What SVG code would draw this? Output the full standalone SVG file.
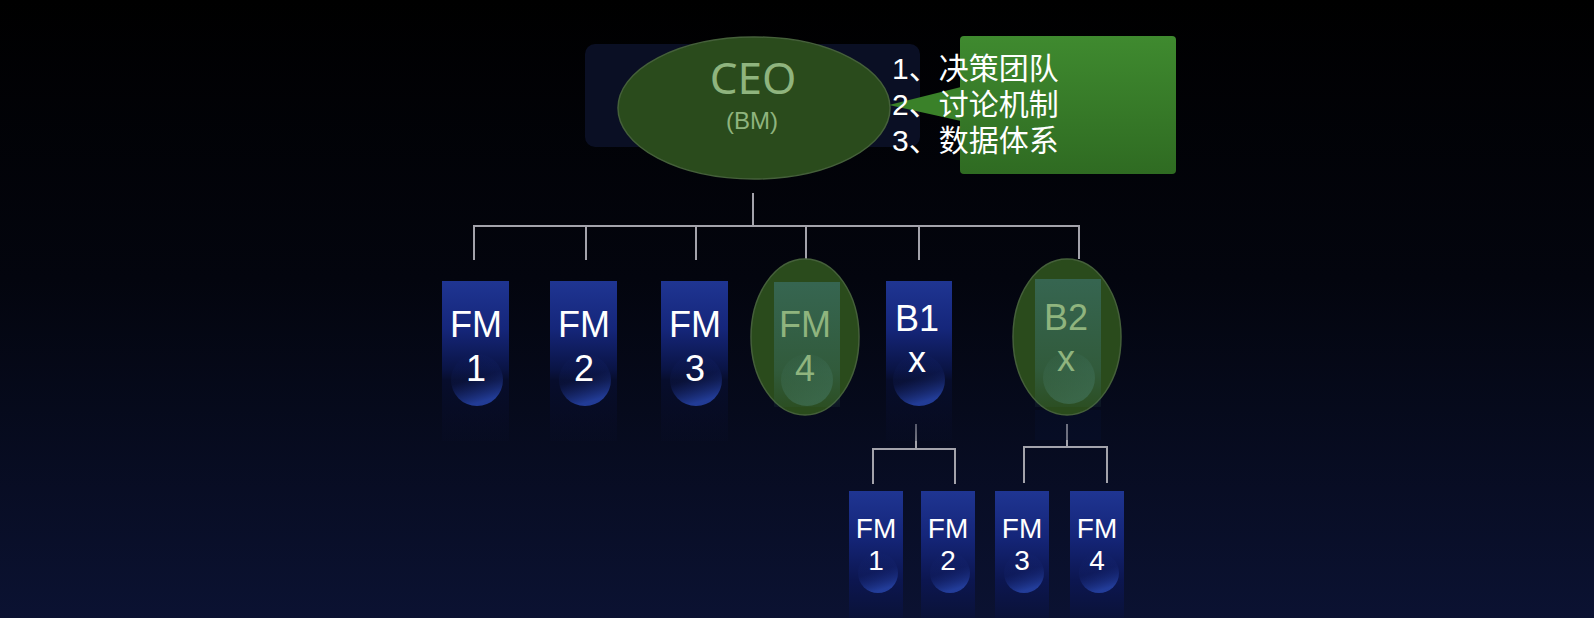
<svg xmlns="http://www.w3.org/2000/svg" width="1594" height="618" viewBox="0 0 1594 618">
<defs>
<linearGradient id="bg" x1="0" y1="0" x2="0" y2="1">
<stop offset="0" stop-color="#000000"/>
<stop offset="0.45" stop-color="#03050e"/>
<stop offset="1" stop-color="#0b1232"/>
</linearGradient>
<linearGradient id="blue" x1="0" y1="0" x2="0" y2="1">
<stop offset="0" stop-color="#1f3592"/>
<stop offset="0.3" stop-color="#15267a"/>
<stop offset="0.55" stop-color="#0a1445"/>
<stop offset="0.62" stop-color="#070d2c"/>
<stop offset="1" stop-color="#080d26" stop-opacity="0.3"/>
</linearGradient>
<linearGradient id="blue3" x1="0" y1="0" x2="0" y2="1">
<stop offset="0" stop-color="#1f3592"/>
<stop offset="0.35" stop-color="#15267a"/>
<stop offset="0.7" stop-color="#0c1650"/>
<stop offset="1" stop-color="#0a1238"/>
</linearGradient>
<linearGradient id="glow" x1="0" y1="0" x2="0.3" y2="1">
<stop offset="0" stop-color="#1a2e86" stop-opacity="0"/>
<stop offset="0.55" stop-color="#1a2e86" stop-opacity="0.15"/>
<stop offset="1" stop-color="#2541a2" stop-opacity="0.9"/>
</linearGradient>
<linearGradient id="teal" x1="0" y1="0" x2="0" y2="1">
<stop offset="0" stop-color="#3a6e62" stop-opacity="0.75"/>
<stop offset="0.7" stop-color="#3a6e62" stop-opacity="0.45"/>
<stop offset="1" stop-color="#3a6e62" stop-opacity="0.1"/>
</linearGradient>
<linearGradient id="tealglow" x1="0" y1="0" x2="0.3" y2="1">
<stop offset="0" stop-color="#4a8070" stop-opacity="0"/>
<stop offset="1" stop-color="#4a8070" stop-opacity="0.45"/>
</linearGradient>
<linearGradient id="callout" x1="0" y1="0" x2="0" y2="1">
<stop offset="0" stop-color="#3f8a2f"/>
<stop offset="1" stop-color="#2f6b22"/>
</linearGradient>
<style>
.line{stroke:#a3a3ab;stroke-width:2;fill:none}
.ell{fill:#2a4b1c;stroke:#45603a;stroke-width:1.5}
.wt{fill:#ffffff;font-family:"Liberation Sans",Arial,sans-serif;text-anchor:middle}
.gt{fill:#8fb47e;font-family:"Liberation Sans",Arial,sans-serif;text-anchor:middle}
.l2{font-size:36px}
.l3{font-size:28px}
.cn{fill:#ffffff;font-family:"Liberation Sans","Noto Sans CJK SC",sans-serif;font-size:30px}
</style>
</defs>
<rect width="1594" height="618" fill="url(#bg)"/>

<g id="ceo">
<rect x="585" y="44" width="335" height="103" rx="10" fill="#0a0f24"/>
<ellipse class="ell" cx="754" cy="108" rx="136" ry="71"/>
<text x="753" y="94" font-size="44" fill="#8fb47e" text-anchor="middle" font-family="'Noto Sans','Open Sans',sans-serif">CEO</text>
<text class="gt" x="752" y="129" font-size="24">(BM)</text>
</g>

<g id="callout">
<rect x="960" y="36" width="216" height="138" rx="4" fill="url(#callout)"/>
<polygon points="961,87 889,105 961,121" fill="#3a8129"/>
<text class="cn" x="892" y="79">1、决策团队</text>
<text class="cn" x="892" y="115">2、讨论机制</text>
<text class="cn" x="892" y="151">3、数据体系</text>
</g>

<g id="connectors">
<path class="line" d="M753 193V227M474 260V226H1079V259M586 226V260M696 226V260M806 226V260M919 226V260"/>
<path class="line" d="M916 424V449M873 484V449H955V484"/>
<path class="line" d="M1067 424V447M1024 483V447H1107V483"/>
</g>

<g id="fm1">
<rect x="442" y="281" width="67" height="160" fill="url(#blue)"/>
<circle cx="477" cy="380" r="26" fill="url(#glow)"/>
<text class="wt l2" x="476" y="337">FM</text>
<text class="wt l2" x="476" y="381">1</text>
</g>
<g id="fm2">
<rect x="550" y="281" width="67" height="160" fill="url(#blue)"/>
<circle cx="585" cy="380" r="26" fill="url(#glow)"/>
<text class="wt l2" x="584" y="337">FM</text>
<text class="wt l2" x="584" y="381">2</text>
</g>
<g id="fm3">
<rect x="661" y="281" width="67" height="160" fill="url(#blue)"/>
<circle cx="696" cy="380" r="26" fill="url(#glow)"/>
<text class="wt l2" x="695" y="337">FM</text>
<text class="wt l2" x="695" y="381">3</text>
</g>
<g id="fm4">
<ellipse class="ell" cx="805" cy="337" rx="54" ry="78"/>
<rect x="774" y="282" width="66" height="125" fill="url(#teal)"/>
<circle cx="807" cy="380" r="26" fill="url(#tealglow)"/>
<text class="gt l2" x="805" y="337">FM</text>
<text class="gt l2" x="805" y="381">4</text>
</g>
<g id="b1x">
<rect x="886" y="281" width="66" height="160" fill="url(#blue)"/>
<circle cx="919" cy="380" r="26" fill="url(#glow)"/>
<text class="wt l2" x="917" y="331">B1</text>
<text class="wt l2" x="917" y="372">x</text>
</g>
<g id="b2x">
<rect x="1035" y="410" width="66" height="30" fill="#0a1030" opacity="0.35"/>
<ellipse class="ell" cx="1067" cy="337" rx="54" ry="78"/>
<rect x="1035" y="279" width="66" height="128" fill="url(#teal)"/>
<circle cx="1069" cy="378" r="26" fill="url(#tealglow)"/>
<text class="gt l2" x="1066" y="330">B2</text>
<text class="gt l2" x="1066" y="371">x</text>
</g>

<g id="fm1b">
<rect x="849" y="491" width="54" height="127" fill="url(#blue3)"/>
<circle cx="878" cy="573" r="20" fill="url(#glow)"/>
<text class="wt l3" x="876" y="538">FM</text>
<text class="wt l3" x="876" y="570">1</text>
</g>
<g id="fm2b">
<rect x="921" y="491" width="54" height="127" fill="url(#blue3)"/>
<circle cx="950" cy="573" r="20" fill="url(#glow)"/>
<text class="wt l3" x="948" y="538">FM</text>
<text class="wt l3" x="948" y="570">2</text>
</g>
<g id="fm3b">
<rect x="995" y="491" width="54" height="127" fill="url(#blue3)"/>
<circle cx="1024" cy="573" r="20" fill="url(#glow)"/>
<text class="wt l3" x="1022" y="538">FM</text>
<text class="wt l3" x="1022" y="570">3</text>
</g>
<g id="fm4b">
<rect x="1070" y="491" width="54" height="127" fill="url(#blue3)"/>
<circle cx="1099" cy="573" r="20" fill="url(#glow)"/>
<text class="wt l3" x="1097" y="538">FM</text>
<text class="wt l3" x="1097" y="570">4</text>
</g>
</svg>
